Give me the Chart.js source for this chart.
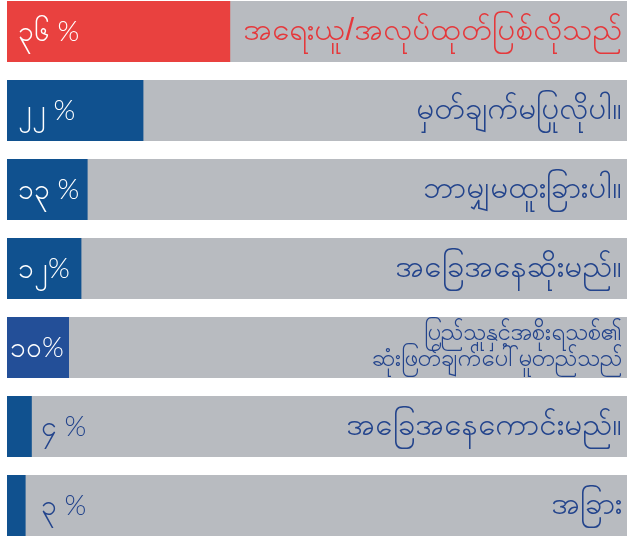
<!DOCTYPE html>
<html>
<head>
<meta charset="utf-8">
<script src="https://cdn.jsdelivr.net/npm/chart.js@4"></script>
<style>
  html, body { margin: 0; padding: 0; background: #fff; overflow: hidden; }
  .wrap { position: absolute; left: 0; top: -8px; width: 627px; height: 553px; }
</style>
</head>
<body>
<div class="wrap"><canvas id="answers"></canvas></div>
<script>
var categories = [
  'အရေးယူ/အလုပ်ထုတ်ပြစ်လိုသည်',
  'မှတ်ချက်မပြုလိုပါ။',
  'ဘာမျှမထူးခြားပါ။',
  'အခြေအနေဆိုးမည်။',
  ['ပြည်သူနှင့်အစိုးရသစ်၏', 'ဆုံးဖြတ်ချက်ပေါ်မူတည်သည်'],
  'အခြေအနေကောင်းမည်။',
  'အခြား'
];
var percents = [36, 22, 13, 12, 10, 4, 3];
var percentLabels = ['၃၆ %', '၂၂ %', '၁၃ %', '၁၂%', '၁၀%', '၄ %', '၃ %'];
var fullScale = [100, 100, 100, 100, 100, 100, 100];

var barColors = ['#E9413F', '#10518F', '#10518F', '#10518F', '#234F98', '#10518F', '#10518F'];
var textColors = ['#E5383B', '#23448C', '#23448C', '#23448C', '#23448C', '#23448C', '#23448C'];

// draws the percent text and the answer text on each row
var rowText = {
  id: 'rowText',
  afterDatasetsDraw: function(chart) {
    var ctx = chart.ctx;
    var xs = chart.scales.x;
    var ys = chart.scales.y;
    ctx.save();
    ctx.textBaseline = 'middle';
    for (var i = 0; i < percents.length; i++) {
      var y = ys.getPixelForValue(i);
      var left = xs.getPixelForValue(0);

      ctx.font = '300 28px Lato, sans-serif';
      ctx.textAlign = 'left';
      if (percents[i] >= 10) {
        ctx.fillStyle = '#ffffff';
        ctx.fillText(percentLabels[i], percents[i] == 10 ? left + 3 : left + 11, y);
      } else {
        ctx.fillStyle = '#23448C';
        ctx.fillText(percentLabels[i], xs.getPixelForValue(4) + 9, y);
      }

      ctx.textAlign = 'right';
      ctx.fillStyle = textColors[i];
      var lab = categories[i];
      if (Array.isArray(lab)) {
        ctx.font = '24px sans-serif';
        ctx.fillText(lab[0], 622, y - 14);
        ctx.fillText(lab[1], 622, y + 12);
      } else {
        ctx.font = '31px sans-serif';
        ctx.fillText(lab, 622, y);
      }
    }
    ctx.restore();
  }
};

var ctx = document.getElementById('answers').getContext('2d');
var chart = new Chart(ctx, {
  type: 'bar',
  data: {
    labels: categories,
    datasets: [{
      data: percents,
      backgroundColor: barColors,
      order: 0,
      grouped: false,
      categoryPercentage: 0.77,
      barPercentage: 1
    }, {
      data: fullScale,
      backgroundColor: '#B8BBC0',
      order: 1,
      grouped: false,
      categoryPercentage: 0.77,
      barPercentage: 1
    }]
  },
  options: {
    indexAxis: 'y',
    responsive: true,
    maintainAspectRatio: false,
    animation: false,
    layout: { padding: { left: 7, right: 0, top: 0, bottom: 0 } },
    plugins: {
      legend: { display: false },
      tooltip: { enabled: false }
    },
    scales: {
      x: { min: 0, max: 100, display: false },
      y: { display: false }
    }
  },
  plugins: [rowText]
});
</script>
</body>
</html>
